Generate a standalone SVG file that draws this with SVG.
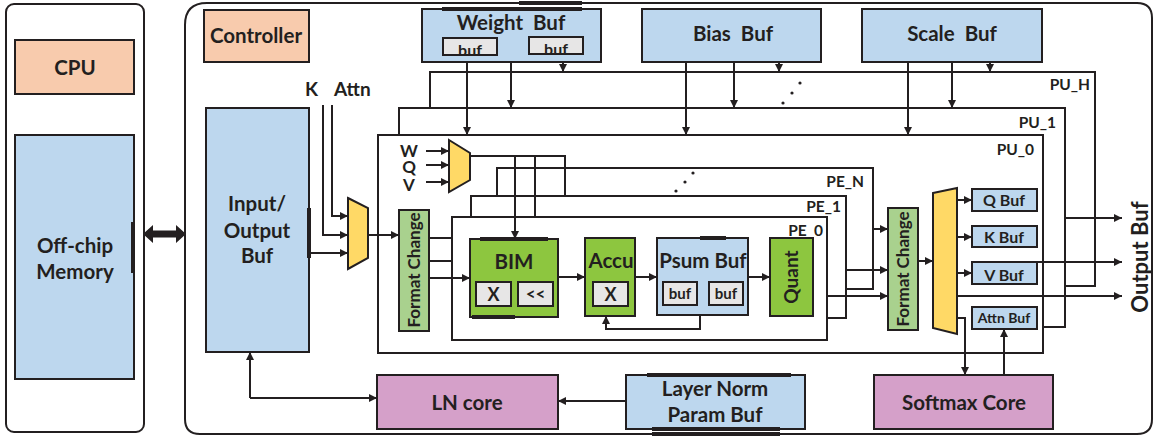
<svg xmlns="http://www.w3.org/2000/svg" width="1156" height="439" viewBox="0 0 1156 439">
<style>
.b{stroke:#231F20;stroke-width:2}
.n{fill:none;stroke:#231F20;stroke-width:2}
.pe{fill:#F8CBAD}
.bl{fill:#BDD7EE}
.gn{fill:#A9D18E}
.gb{fill:#8DC63F}
.yl{fill:#FFD966}
.pk{fill:#D5A0C9}
.gy{fill:#E7E6E6}
.w{fill:#fff}
text{font-family:Lato,"Liberation Sans",sans-serif;font-weight:bold;fill:#231F20}
.c{text-anchor:middle}
.e{text-anchor:end}
.f19{font-size:20.5px}
.f15{font-size:15.5px}
.f13{font-size:14px}
.bar{stroke:#231F20;stroke-width:4}
</style>
<defs>
<marker id="ah" viewBox="0 0 10 10" refX="10" refY="5" markerWidth="9" markerHeight="8" markerUnits="userSpaceOnUse" orient="auto"><path d="M0,0 L10,5 L0,10 z" fill="#231F20"/></marker>
</defs>

<g id="host">
<rect class="b w" x="6" y="4" width="138" height="428" rx="8"/>
</g>
<g id="cpu"><rect class="b pe" x="15" y="40" width="119" height="54"/><text class="c f19" x="75" y="75">CPU</text></g>
<g id="offchip"><rect class="b bl" x="15" y="135" width="119" height="244"/><line class="bar" x1="133" y1="222" x2="133" y2="273"/><text class="c f19" x="75" y="253">Off-chip</text><text class="c f19" x="75" y="279">Memory</text></g>

<g id="chip"><path class="b w" d="M207,3 H1137 Q1152,3 1152,18 V419 Q1152,434 1137,434 H200 Q185,434 185,419 V25 Q185,3 207,3 Z"/><line class="bar" x1="519" y1="3" x2="582" y2="3"/></g>

<g id="bigarrow"><polygon fill="#231F20" points="143,234 153,225 153,230.5 176,230.5 176,225 186,234 176,243 176,237.5 153,237.5 153,243"/></g>

<g id="controller"><rect class="b pe" x="204" y="10" width="105" height="52"/><text class="c f19" x="256" y="43">Controller</text></g>

<g id="weightbuf"><rect class="b bl" x="422" y="9" width="179" height="53"/><line class="bar" x1="442" y1="9" x2="582" y2="9"/><text class="c f19" x="511" y="30" word-spacing="5">Weight Buf</text>
<rect class="b gy" x="443" y="38" width="54" height="17"/><text class="c" font-size="16" x="470" y="56">buf</text>
<rect class="b gy" x="529" y="37" width="54" height="17"/><text class="c" font-size="16" x="556" y="55">buf</text></g>
<g id="biasbuf"><rect class="b bl" x="642" y="9" width="179" height="53"/><text class="c f19" x="733" y="41" word-spacing="5">Bias Buf</text></g>
<g id="scalebuf"><rect class="b bl" x="862" y="9" width="180" height="53"/><text class="c f19" x="952" y="41" word-spacing="5">Scale Buf</text></g>

<g id="pu_h"><path class="n" d="M430,108 V72 H1095 V286 H1065"/><text class="e f15" x="1090" y="90">PU_H</text></g>
<g id="pu_1"><path class="n" d="M399,135 V108 H1065 V327 H1043"/><text class="e f15" x="1056" y="128">PU_1</text></g>
<g id="pu_0"><rect class="n" x="378" y="135" width="665" height="218"/><text class="e f15" x="1034" y="155">PU_0</text></g>
<g id="pudots" fill="#231F20"><circle cx="800" cy="83" r="1.6"/><circle cx="792" cy="93" r="1.6"/><circle cx="783" cy="103" r="1.6"/></g>

<g id="iobuf"><rect class="b bl" x="206" y="108" width="103" height="244"/><line class="bar" x1="309" y1="208" x2="309" y2="258"/><text class="c f19" x="257" y="211">Input/</text><text class="c f19" x="257" y="238">Output</text><text class="c f19" x="257" y="263">Buf</text></g>
<g id="klabels"><text x="305" y="96" font-size="19">K</text><text x="334" y="96" font-size="19">Attn</text></g>
<g id="mux1"><polygon class="b yl" points="348,198 368,208 368,258 348,269"/></g>
<g id="fc1"><rect class="b gn" x="399" y="210" width="30" height="121"/><text class="c" font-size="17" transform="translate(420,270) rotate(-90)">Format Change</text></g>

<g id="wqv"><text class="c" font-size="17" x="409" y="157">W</text><text class="c" font-size="17" x="409" y="173">Q</text><text class="c" font-size="17" x="409" y="191">V</text></g>
<g id="mux2"><polygon class="b yl" points="449,140 470,153 470,180 449,192"/></g>

<g id="pe_n"><path class="n" d="M497,196 V168 H873 V289 H846"/><text class="e f15" x="864" y="187">PE_N</text></g>
<g id="pe_1"><path class="n" d="M471,217 V196 H846 V318 H827"/><text class="e f15" x="841" y="212">PE_1</text></g>
<g id="pe_0"><rect class="n" x="452" y="217" width="375" height="123"/><text class="e f15" x="823" y="236">PE_0</text></g>
<g id="pedots" fill="#231F20"><circle cx="693" cy="173" r="1.6"/><circle cx="685" cy="182" r="1.6"/><circle cx="676" cy="191" r="1.6"/></g>

<g id="bim"><rect class="b gb" x="470" y="239" width="88" height="78"/><line class="bar" x1="480" y1="239" x2="548" y2="239"/><line class="bar" x1="472" y1="317" x2="515" y2="317"/><text class="c f19" x="514" y="269">BIM</text>
<rect class="b gy" x="476" y="282" width="35" height="24"/><text class="c" x="493.5" y="301" font-size="18">X</text>
<rect class="b gy" x="518" y="282" width="35" height="24"/><text class="c" x="535.5" y="300" font-size="17">&lt;&lt;</text></g>
<g id="accu"><rect class="b gb" x="585" y="238" width="50" height="78"/><text class="c f19" x="611" y="268">Accu</text>
<rect class="b gy" x="593" y="282" width="35" height="24"/><text class="c" x="610.5" y="301" font-size="18">X</text></g>
<g id="psum"><rect class="b bl" x="657" y="238" width="91" height="77"/><line class="bar" x1="700" y1="238" x2="726" y2="238"/><text class="c f19" x="703" y="268">Psum Buf</text>
<rect class="b gy" x="663" y="282" width="34" height="23"/><text class="c" font-size="15" x="680" y="299">buf</text>
<rect class="b gy" x="709" y="282" width="34" height="23"/><text class="c" font-size="15" x="726" y="299">buf</text></g>
<g id="quant"><rect class="b gb" x="770" y="238" width="43" height="78"/><text class="c" font-size="19" transform="translate(798,277) rotate(-90)">Quant</text></g>

<g id="fc2"><rect class="b gn" x="888" y="208" width="30" height="122"/><text class="c" font-size="17" transform="translate(909,269) rotate(-90)">Format Change</text></g>
<g id="mux3"><polygon class="b yl" points="933,193 957,188 957,334 933,328"/></g>
<g id="qbuf"><rect class="b bl" x="972" y="189" width="65" height="22"/><text class="c" font-size="16" x="1004" y="206">Q Buf</text></g>
<g id="kbuf"><rect class="b bl" x="972" y="226" width="65" height="21"/><text class="c" font-size="16" x="1004" y="243">K Buf</text></g>
<g id="vbuf"><rect class="b bl" x="972" y="262" width="65" height="22"/><text class="c" font-size="16" x="1004" y="281">V Buf</text></g>
<g id="attnbuf"><rect class="b bl" x="972" y="307" width="65" height="22"/><text class="c" font-size="14" x="1004" y="323">Attn Buf</text></g>
<g id="outbuf"><text class="c" font-size="22" transform="translate(1148,257) rotate(-90)">Output Buf</text></g>

<g id="lncore"><rect class="b pk" x="377" y="375" width="181" height="54"/><text class="c f19" x="467" y="410">LN core</text></g>
<g id="lnparam"><rect class="b bl" x="626" y="375" width="179" height="54"/><line class="bar" x1="647" y1="375" x2="791" y2="375"/><line class="bar" x1="652" y1="429" x2="780" y2="429"/><line class="bar" x1="652" y1="434" x2="780" y2="434"/><text class="c f19" x="715" y="396">Layer Norm</text><text class="c f19" x="715" y="422">Param Buf</text></g>
<g id="softmax"><rect class="b pk" x="874" y="375" width="179" height="54"/><text class="c f19" x="964" y="410">Softmax Core</text></g>

<g id="connectors" class="n">
<path d="M467,62 V135" marker-end="url(#ah)"/>
<path d="M511,62 V108" marker-end="url(#ah)"/>
<path d="M563,62 V72" marker-end="url(#ah)"/>
<path d="M686,62 V135" marker-end="url(#ah)"/>
<path d="M734,62 V108" marker-end="url(#ah)"/>
<path d="M779,62 V72" marker-end="url(#ah)"/>
<path d="M908,62 V135" marker-end="url(#ah)"/>
<path d="M952,62 V108" marker-end="url(#ah)"/>
<path d="M990,62 V72" marker-end="url(#ah)"/>
<path d="M323,105 V235 H348" marker-end="url(#ah)"/>
<path d="M332,105 V216 H348" marker-end="url(#ah)"/>
<path d="M309,253 H348" marker-end="url(#ah)"/>
<path d="M368,235 H399" marker-end="url(#ah)"/>
<path d="M426,151 H449" marker-end="url(#ah)"/>
<path d="M426,165 H449" marker-end="url(#ah)"/>
<path d="M426,182 H449" marker-end="url(#ah)"/>
<path d="M470,156 H565 V196"/>
<path d="M535,156 V217"/>
<path d="M515,156 V239" marker-end="url(#ah)"/>
<path d="M429,238 H452"/>
<path d="M429,261 H452"/>
<path d="M429,278 H470" marker-end="url(#ah)"/>
<path d="M558,277 H585" marker-end="url(#ah)"/>
<path d="M635,277 H657" marker-end="url(#ah)"/>
<path d="M748,277 H770" marker-end="url(#ah)"/>
<path d="M700,315 V329 H606 V316" marker-end="url(#ah)"/>
<path d="M873,229 H888" marker-end="url(#ah)"/>
<path d="M846,270 H888" marker-end="url(#ah)"/>
<path d="M827,296 H888" marker-end="url(#ah)"/>
<path d="M918,261 H933" marker-end="url(#ah)"/>
<path d="M957,200 H972" marker-end="url(#ah)"/>
<path d="M957,237 H972" marker-end="url(#ah)"/>
<path d="M957,273 H972" marker-end="url(#ah)"/>
<path d="M1065,218 H1122" marker-end="url(#ah)"/>
<path d="M1037,262 H1122" marker-end="url(#ah)"/>
<path d="M957,296 H1122" marker-end="url(#ah)"/>
<path d="M957,318 H965 V375" marker-end="url(#ah)"/>
<path d="M1004,375 V329" marker-end="url(#ah)"/>
<path d="M250,398 V352" marker-end="url(#ah)"/>
<path d="M250,398 H377" marker-end="url(#ah)"/>
<path d="M626,401 H558" marker-end="url(#ah)"/>
</g>
</svg>
